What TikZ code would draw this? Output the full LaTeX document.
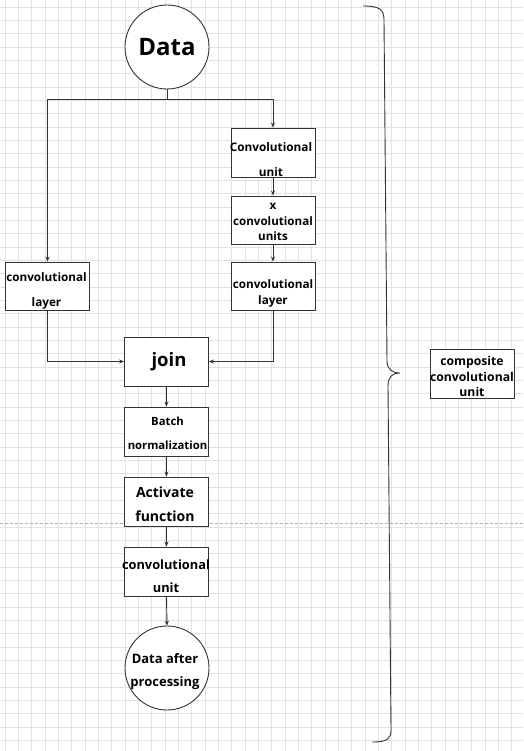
\documentclass[tikz,border=0pt]{standalone}
\usepackage{fontspec}
\setmainfont{Open Sans}
\usetikzlibrary{arrows.meta}
\definecolor{ink}{HTML}{333333}
\definecolor{gridc}{HTML}{E2E2E2}
\begin{document}
\begin{tikzpicture}[x=1pt,y=-1pt,
  box/.style={draw=ink, line width=0.9pt, fill=white, minimum width=84pt, minimum height=49pt, inner sep=0pt},
  circ/.style={draw=ink, line width=0.9pt, fill=white, circle, minimum size=84pt, inner sep=0pt},
  lbl/.style={align=center, inner sep=0pt, text=black},
  conn/.style={draw=ink, line width=0.9pt, -{Stealth[length=5pt,width=4pt]}},
  plain/.style={draw=ink, line width=0.9pt},
  gridline/.style={draw=gridc, line width=0.6pt}]
\useasboundingbox (0,0) rectangle (523,751);
\fill[white] (0,0) rectangle (523,751);
% grid
\foreach \i in {0,...,38} \draw[gridline] ({5+13.33*\i},0) -- ({5+13.33*\i},751);
\foreach \j in {0,...,55} \draw[gridline] (0,{7+13.33*\j}) -- (523,{7+13.33*\j});
\draw[draw=gray!60, line width=0.6pt, dash pattern=on 3pt off 2pt] (0,523) -- (523,523);

% nodes
\node[circ] (data) at (167,47) {};
\node[lbl, font={\fontsize{24}{28}\selectfont\bfseries}] (datat) at (167,47) {Data};

\node[box] (cu1) at (273,152.5) {};
\node[lbl, font={\fontsize{11.8}{25}\selectfont\bfseries}] (cu1t) at (271,159.5) {Convolutional\\unit};

\node[box, minimum height=48pt] (xcu) at (273,220) {};
\node[lbl, font={\fontsize{11.6}{15.5}\selectfont\bfseries}] (xcut) at (273,222) {x\\convolutional\\units};

\node[box, minimum height=48pt] (cl2) at (273,286) {};
\node[lbl, font={\fontsize{11.7}{16}\selectfont\bfseries}] (cl2t) at (273,293) {convolutional\\layer};

\node[box, minimum height=48pt] (cl1) at (47.5,286) {};
\node[lbl, font={\fontsize{11.7}{25}\selectfont\bfseries}] (cl1t) at (46.5,290.5) {convolutional\\layer};

\node[box] (join) at (166.5,361.5) {};
\node[lbl, font={\fontsize{18.5}{22}\selectfont\bfseries}] (joint) at (169,362) {join};

\node[box] (bn) at (166.5,431.5) {};
\node[lbl, font={\fontsize{11.3}{24}\selectfont\bfseries}] (bnt) at (167.5,433) {Batch\\normalization};

\node[box] (af) at (166.5,501.5) {};
\node[lbl, font={\fontsize{14}{24}\selectfont\bfseries}] (aft) at (165,504) {Activate\\function};

\node[box] (cu2) at (166.5,571.5) {};
\node[lbl, font={\fontsize{12.8}{23}\selectfont\bfseries}] (cu2t) at (166,576.5) {convolutional\\unit};

\node[circ] (dap) at (167,668) {};
\node[lbl, font={\fontsize{13}{23}\selectfont\bfseries}] (dapt) at (165,671.5) {Data after\\processing};

\node[box] (comp) at (472,373.5) {};
\node[lbl, font={\fontsize{12.2}{15.5}\selectfont\bfseries}] (compt) at (472,376.5) {composite\\convolutional\\unit};

% connectors
\coordinate (split) at (167,99);
\draw[plain] (data.south) -- (split);
\draw[conn] (split) -| (cl1.north);
\draw[conn] (split) -| (cu1.north);
\draw[conn] (cu1.south) -- (xcu.north);
\draw[conn] (xcu.south) -- (cl2.north);
\draw[conn] (cl1.south) |- (join.west);
\draw[conn] (cl2.south) |- (join.east);
\draw[conn] (join.south) -- (bn.north);
\draw[conn] (bn.south) -- (af.north);
\draw[conn] (af.south) -- (cu2.north);
\draw[conn] (cu2.south) -- (dap.north);

% brace
\draw[draw=ink, line width=0.9pt]
  (363,6) .. controls (379,6) and (384,9) .. (384,20)
  -- (387,361) .. controls (387,369) and (392,373) .. (400,373)
  .. controls (392,373) and (388,377) .. (388,386)
  -- (391,730) .. controls (391,739) and (387,742) .. (372,742);
\end{tikzpicture}
\end{document}
